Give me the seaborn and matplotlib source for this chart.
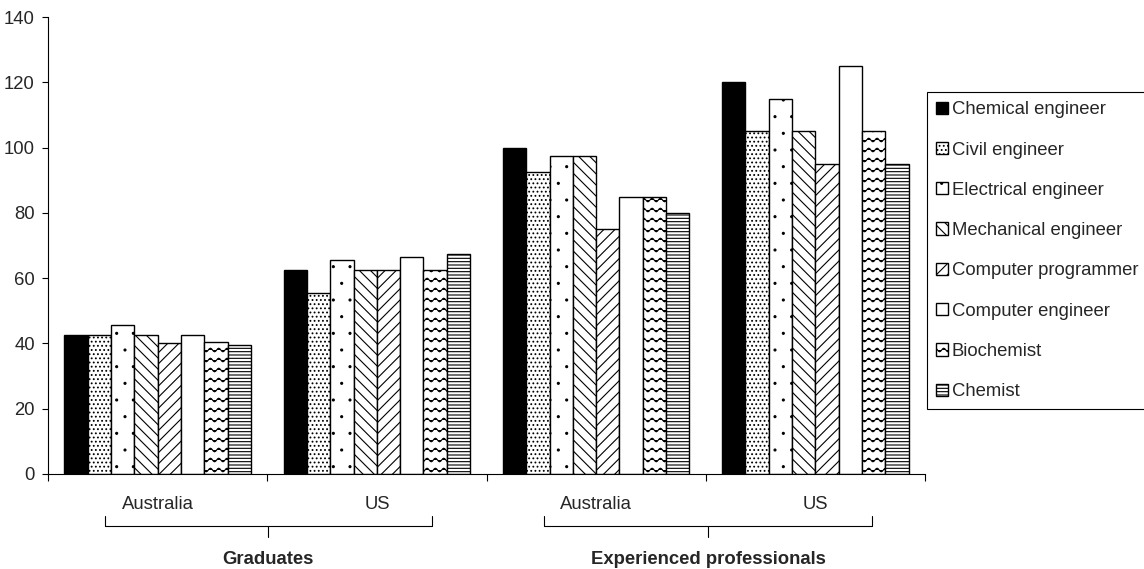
import numpy as np
import pandas as pd
import seaborn as sns
import matplotlib.pyplot as plt
import matplotlib.hatch as mhatch
import matplotlib.transforms as mtransforms
from matplotlib.path import Path


# wavy hatch for the Biochemist bars (not one of matplotlib's built-in hatches)
class WaveHatch(mhatch.HatchPatternBase):
    def __init__(self, hatch, density):
        self.num_lines = int(hatch.count('~') * density * 0.85)
        self.n_pts = 97
        self.num_vertices = (self.num_lines + 1) * self.n_pts if self.num_lines else 0

    def set_vertices_and_codes(self, vertices, codes):
        xs = np.linspace(0, 1, self.n_pts)
        for i in range(self.num_lines + 1):
            y0 = i / self.num_lines
            seg = slice(i * self.n_pts, (i + 1) * self.n_pts)
            vertices[seg, 0] = xs
            vertices[seg, 1] = y0 + 0.018 * np.sin(2 * np.pi * 12 * xs)
            codes[seg] = Path.LINETO
            codes[i * self.n_pts] = Path.MOVETO


# small, sparse dots for the Electrical engineer bars
class TinyDots(mhatch.Circles):
    size = 0.06
    filled = True

    def __init__(self, hatch, density):
        self.num_rows = hatch.count(':') * density
        super().__init__(hatch, density)


mhatch._hatch_types.append(WaveHatch)
mhatch._hatch_types.append(TinyDots)

# data
groups = ['Graduates', 'Graduates', 'Experienced professionals', 'Experienced professionals']
countries = ['Australia', 'US', 'Australia', 'US']
occupations = ['Chemical engineer', 'Civil engineer', 'Electrical engineer',
               'Mechanical engineer', 'Computer programmer', 'Computer engineer',
               'Biochemist', 'Chemist']
chemical_engineer = [42.5, 62.5, 100, 120]
civil_engineer = [42.5, 55.5, 92.5, 105]
electrical_engineer = [45.5, 65.5, 97.5, 115]
mechanical_engineer = [42.5, 62.5, 97.5, 105]
computer_programmer = [40, 62.5, 75, 95]
computer_engineer = [42.5, 66.5, 85, 125]
biochemist = [40.5, 62.5, 85, 105]
chemist = [39.5, 67.5, 80, 95]

series = [chemical_engineer, civil_engineer, electrical_engineer, mechanical_engineer,
          computer_programmer, computer_engineer, biochemist, chemist]
cells = [g + ' ' + c for g, c in zip(groups, countries)]
rows = []
for occ, vals in zip(occupations, series):
    for cell, v in zip(cells, vals):
        rows.append({'cell': cell, 'occupation': occ, 'value': v})
df = pd.DataFrame(rows)

sns.set_style('ticks')
plt.rcParams['font.family'] = ['Liberation Sans', 'DejaVu Sans']
plt.rcParams['hatch.linewidth'] = 0.8

fig = plt.figure(figsize=(11.44, 5.69), dpi=100)
ax = fig.add_axes([48 / 1144, 95 / 569, 877 / 1144, 457 / 569])

palette = {o: 'white' for o in occupations}
palette['Chemical engineer'] = 'black'
sns.barplot(data=df, x='cell', y='value', hue='occupation', order=cells,
            hue_order=occupations, palette=palette, width=0.85, errorbar=None,
            edgecolor='black', linewidth=1.0, saturation=1, legend=False, ax=ax)

hatches = ['', '....', ':', '\\\\\\', '///', '', '~~', '-----']
for cont, h in zip(ax.containers, hatches):
    for bar in cont:
        bar.set_hatch(h)

ax.set_xlim(-0.5, 3.5)
ax.set_ylim(0, 140)
ax.set_yticks(range(0, 141, 20))
ax.set_xticks([-0.5, 0.5, 1.5, 2.5, 3.5])
ax.set_xticklabels([])
ax.set_xticks([0, 1, 2, 3], minor=True)
ax.set_xticklabels(countries, minor=True)
ax.tick_params(axis='x', which='major', length=5, width=0.8, color='black')
ax.tick_params(axis='x', which='minor', length=0, pad=16, labelsize=13.3)
ax.tick_params(axis='y', length=4.5, width=0.8, color='black', pad=5, labelsize=13.3)
ax.set_xlabel('')
ax.set_ylabel('')
sns.despine(ax=ax)
for s in ['left', 'bottom']:
    ax.spines[s].set_color('black')
    ax.spines[s].set_linewidth(0.8)

# group brackets and labels below the axis
trans = mtransforms.blended_transform_factory(ax.transData, ax.transAxes)
for x0, x1, name in [(-0.24, 1.25, 'Graduates'), (1.76, 3.26, 'Experienced professionals')]:
    xc = (x0 + x1) / 2
    ax.plot([x0, x0, x1, x1], [-0.092, -0.114, -0.114, -0.092], color='black',
            lw=0.8, transform=trans, clip_on=False)
    ax.plot([xc, xc], [-0.114, -0.138], color='black', lw=0.8,
            transform=trans, clip_on=False)
    ax.text(xc, -0.188, name, transform=trans, ha='center', va='center',
            fontsize=13.3, fontweight='bold')

leg = fig.legend(ax.containers, occupations, loc='upper left',
                 bbox_to_anchor=(927 / 1144, 1 - 92 / 569), borderaxespad=0,
                 fontsize=13.3, frameon=True, fancybox=False, framealpha=1,
                 edgecolor='black', handlelength=0.65, handleheight=0.65,
                 handletextpad=0.2, labelspacing=1.26, borderpad=0.5)
leg.get_frame().set_linewidth(0.8)

fig.savefig('out.png', dpi=100)
